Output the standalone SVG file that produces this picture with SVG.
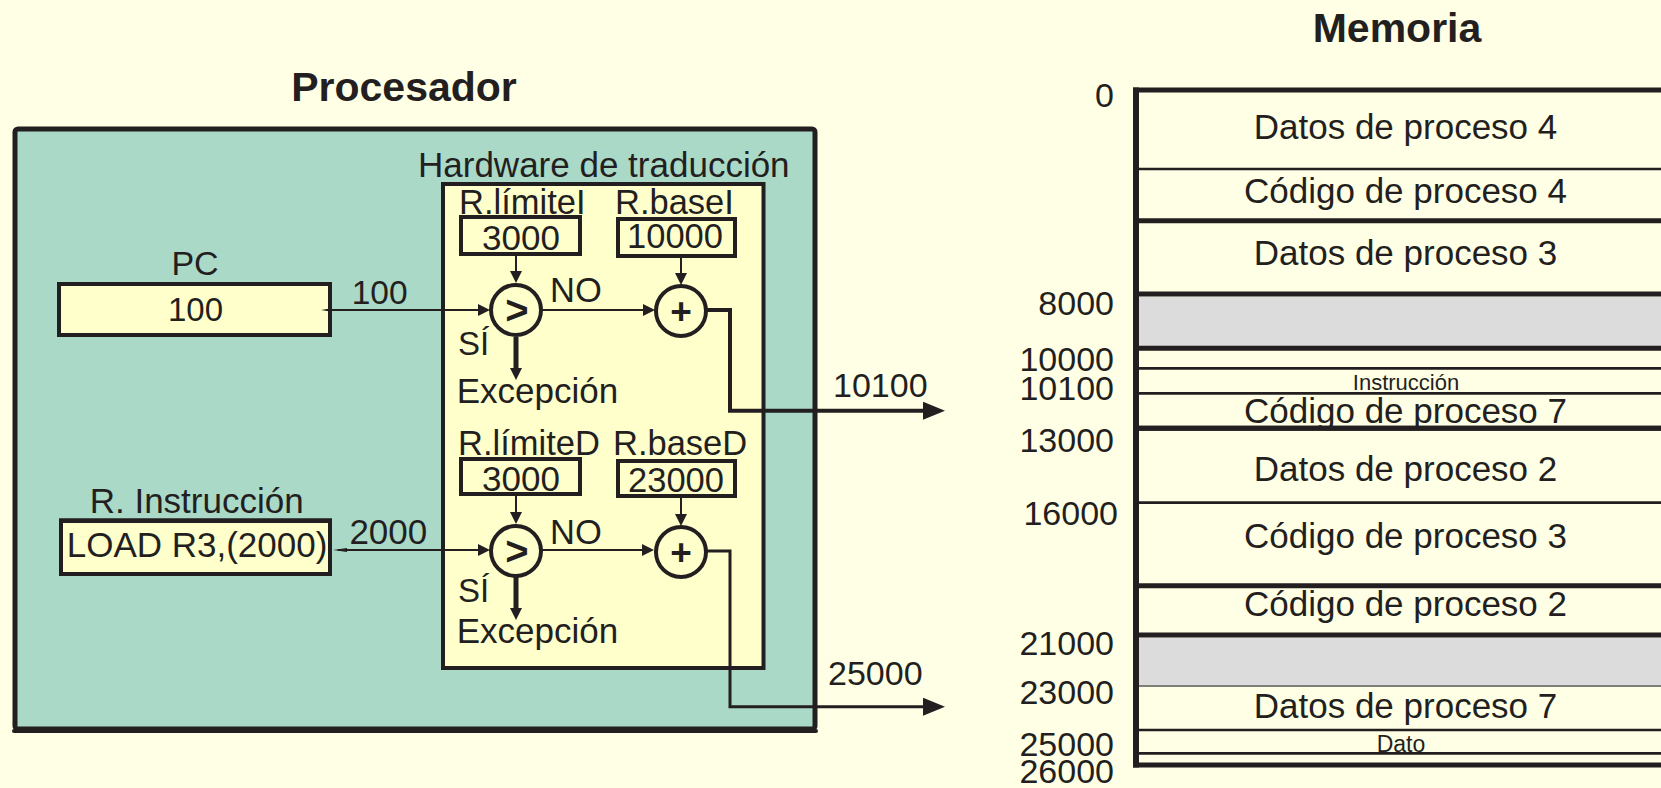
<svg xmlns="http://www.w3.org/2000/svg" width="1661" height="788" viewBox="0 0 1661 788">
<defs>
<style>
.t{font-family:"Liberation Sans",Arial,Helvetica,sans-serif;fill:#231F20}
.title{font-size:41px;font-weight:bold;text-anchor:middle}
.lbl{font-size:34.5px}
.mid{text-anchor:middle}
.mem{font-size:35px;text-anchor:middle}
.num{font-size:34px;text-anchor:end}
.sym{font-weight:bold;text-anchor:middle}
.reg{fill:#FFFFCC;stroke:#231F20;stroke-width:4}
.circ{fill:#FFFFCC;stroke:#231F20;stroke-width:4}
.ln{stroke:#231F20;fill:none}
.thin{stroke-width:2}
.mline{stroke:#231F20}
.mthick{stroke-width:5}
.mthin{stroke-width:2.7}
</style>
<marker id="arr" viewBox="0 0 12 12" refX="0" refY="6" markerWidth="12" markerHeight="12" markerUnits="userSpaceOnUse" orient="auto">
<path d="M0,0 L12,6 L0,12 z" fill="#231F20"/>
</marker>
<marker id="arrBig" viewBox="0 0 22 18" refX="0" refY="9" markerWidth="22" markerHeight="18" markerUnits="userSpaceOnUse" orient="auto">
<path d="M0,0 L22,9 L0,18 z" fill="#231F20"/>
</marker>
</defs>
<rect x="0" y="0" width="1661" height="788" fill="#FFFFE5"/>

<g id="processor">
<text class="t title" x="404" y="101">Procesador</text>
<rect x="15" y="129" width="800" height="600" rx="3" fill="#AAD9C8" stroke="#231F20" stroke-width="5"/>
<line x1="14" y1="731" x2="816" y2="731" stroke="#231F20" stroke-width="4" stroke-linecap="round"/>
</g>

<g id="hardware">
<text class="t" x="418" y="177" font-size="35">Hardware de traducción</text>
<rect x="443" y="184" width="320.5" height="484" fill="#FFFFCC" stroke="#231F20" stroke-width="4"/>
</g>

<g id="pc">
<text class="t mid" x="195" y="275" font-size="34">PC</text>
<rect class="reg" x="59" y="284" width="271" height="51" stroke-width="4.7"/>
<text class="t mid" x="195.5" y="321" font-size="33">100</text>
</g>

<g id="r-instruccion">
<text class="t mid" x="196.7" y="513" font-size="35">R. Instrucción</text>
<rect class="reg" x="61" y="521" width="269" height="53" stroke-width="3.5"/>
<line x1="59" y1="520.5" x2="332" y2="520.5" stroke="#231F20" stroke-width="4.5"/>
<text class="t" x="66.7" y="556.7" font-size="35">LOAD R3,(2000)</text>
</g>

<g id="limite-i">
<text class="t lbl" x="459" y="214">R.límiteI</text>
<rect class="reg" x="461" y="217" width="119" height="37"/>
<text class="t mid" x="521" y="250" font-size="35">3000</text>
</g>
<g id="base-i">
<text class="t lbl" x="615" y="214">R.baseI</text>
<rect class="reg" x="618" y="219" width="117" height="37"/>
<text class="t mid" x="675" y="247.5" font-size="34.5">10000</text>
</g>
<g id="comp-i">
<circle class="circ" cx="516" cy="310" r="25"/>
<text class="t sym" x="517" y="324" font-size="40">&gt;</text>
</g>
<g id="plus-i">
<circle class="circ" cx="681" cy="311" r="25"/>
<text class="t sym" x="681" y="324" font-size="37">+</text>
</g>

<g id="limite-d">
<text class="t lbl" x="458" y="455">R.límiteD</text>
<rect class="reg" x="461" y="459" width="119" height="35"/>
<text class="t mid" x="521" y="491" font-size="35">3000</text>
</g>
<g id="base-d">
<text class="t lbl" x="613" y="455">R.baseD</text>
<rect class="reg" x="618" y="461" width="117" height="35"/>
<text class="t mid" x="676" y="491.7" font-size="34.5">23000</text>
</g>
<g id="comp-d">
<circle class="circ" cx="516" cy="551" r="25"/>
<text class="t sym" x="517" y="565" font-size="40">&gt;</text>
</g>
<g id="plus-d">
<circle class="circ" cx="681" cy="552" r="25"/>
<text class="t sym" x="681" y="565" font-size="37">+</text>
</g>

<g id="connectors">
<line class="ln thin" x1="516" y1="256" x2="516" y2="271" marker-end="url(#arr)"/>
<line class="ln thin" x1="681" y1="258" x2="681" y2="273" marker-end="url(#arr)"/>
<line class="ln thin" x1="329" y1="310" x2="478" y2="310" marker-end="url(#arr)"/>
<polygon points="321,310 330,308.5 330,311.5" fill="#231F20"/>
<line class="ln thin" x1="541" y1="310" x2="643" y2="310" marker-end="url(#arr)"/>
<line class="ln" stroke-width="5" x1="516" y1="337" x2="516" y2="368" marker-end="url(#arr)"/>
<polyline class="ln" stroke-width="4" points="706,310 730,310 730,410.7 923,410.7" marker-end="url(#arrBig)"/>

<line class="ln thin" x1="516" y1="496" x2="516" y2="512" marker-end="url(#arr)"/>
<line class="ln thin" x1="681" y1="498" x2="681" y2="514" marker-end="url(#arr)"/>
<line class="ln thin" x1="338" y1="550" x2="478" y2="550" marker-end="url(#arr)"/>
<polygon points="333,550 347,548 347,552" fill="#231F20"/>
<line class="ln thin" x1="541" y1="550" x2="642" y2="550" marker-end="url(#arr)"/>
<line class="ln" stroke-width="5" x1="516" y1="577" x2="516" y2="608" marker-end="url(#arr)"/>
<polyline class="ln" stroke-width="3" points="706,551 730,551 730,706.7 923,706.7" marker-end="url(#arrBig)"/>

<text class="t" x="351.7" y="304" font-size="33.5">100</text>
<text class="t" x="349.4" y="544" font-size="35">2000</text>
<text class="t lbl" x="550" y="301.7">NO</text>
<text class="t lbl" x="550" y="544">NO</text>
<text class="t" x="458" y="355" font-size="33">SÍ</text>
<text class="t" x="458" y="601.7" font-size="33">SÍ</text>
<text class="t" x="456.7" y="403.3" font-size="35">Excepción</text>
<text class="t" x="456.7" y="642.7" font-size="35">Excepción</text>
<text class="t" x="833" y="396.7" font-size="34">10100</text>
<text class="t" x="828" y="685" font-size="34">25000</text>
</g>

<g id="memory">
<text class="t title" x="1397" y="42">Memoria</text>
<rect x="1136" y="296.7" width="530" height="49.3" fill="#DCDCDC"/>
<rect x="1136" y="637.7" width="530" height="47.3" fill="#DCDCDC"/>
<line class="mline" stroke-width="5" x1="1133" y1="90" x2="1670" y2="90"/>
<line class="mline mthin" x1="1136" y1="169" x2="1670" y2="169"/>
<line class="mline mthick" x1="1136" y1="220.7" x2="1670" y2="220.7"/>
<line class="mline mthick" x1="1136" y1="294" x2="1670" y2="294"/>
<line class="mline mthick" x1="1136" y1="348.3" x2="1670" y2="348.3"/>
<line class="mline mthin" x1="1136" y1="368.3" x2="1670" y2="368.3"/>
<line class="mline mthin" x1="1136" y1="393.3" x2="1670" y2="393.3"/>
<line class="mline mthick" x1="1136" y1="428.3" x2="1670" y2="428.3"/>
<line class="mline mthin" x1="1136" y1="502.7" x2="1670" y2="502.7"/>
<line class="mline mthick" x1="1136" y1="585.7" x2="1670" y2="585.7"/>
<line class="mline mthick" x1="1136" y1="635" x2="1670" y2="635"/>
<line stroke="#555" stroke-width="1.7" x1="1136" y1="686" x2="1670" y2="686"/>
<line class="mline mthin" x1="1136" y1="730" x2="1670" y2="730"/>
<line class="mline mthin" x1="1136" y1="753.3" x2="1670" y2="753.3"/>
<line class="mline mthick" x1="1133" y1="765" x2="1670" y2="765"/>
<line class="mline" stroke-width="6" x1="1136" y1="87.5" x2="1136" y2="767.5"/>

<text class="t mem" x="1405.5" y="139">Datos de proceso 4</text>
<text class="t mem" x="1405.5" y="203.3">Código de proceso 4</text>
<text class="t mem" x="1405.5" y="265">Datos de proceso 3</text>
<text class="t mid" x="1406" y="390" font-size="22">Instrucción</text>
<text class="t mem" x="1405.5" y="423.3">Código de proceso 7</text>
<line class="mline mthick" x1="1136" y1="428.3" x2="1670" y2="428.3"/>
<text class="t mem" x="1405.5" y="480.7">Datos de proceso 2</text>
<text class="t mem" x="1405.5" y="548.3">Código de proceso 3</text>
<text class="t mem" x="1405.5" y="616">Código de proceso 2</text>
<text class="t mem" x="1405.5" y="718.3">Datos de proceso 7</text>
<text class="t mid" x="1401" y="751.7" font-size="23">Dato</text>

<text class="t num" x="1114" y="107.3">0</text>
<text class="t num" x="1114" y="315">8000</text>
<text class="t num" x="1114" y="371">10000</text>
<text class="t num" x="1114" y="400">10100</text>
<text class="t num" x="1114" y="451.7">13000</text>
<text class="t num" x="1118" y="525">16000</text>
<text class="t num" x="1114" y="655">21000</text>
<text class="t num" x="1114" y="704">23000</text>
<text class="t num" x="1114" y="756">25000</text>
<text class="t num" x="1114" y="783.3">26000</text>
</g>
</svg>
